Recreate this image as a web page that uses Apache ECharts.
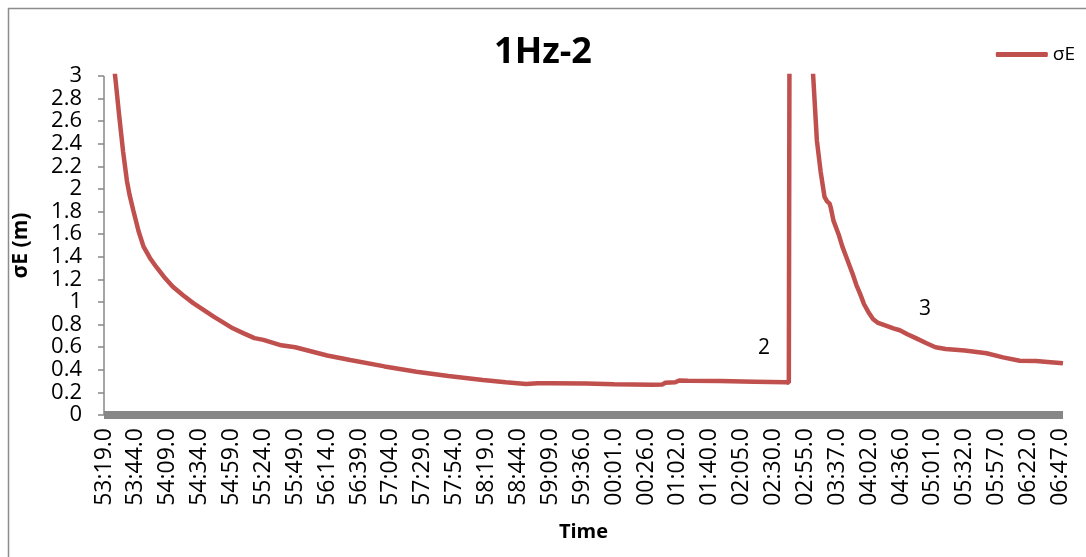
<!DOCTYPE html>
<html>
<head>
<meta charset="utf-8">
<script src="https://cdn.jsdelivr.net/npm/echarts@6/dist/echarts.min.js"></script>
<style>
html,body{margin:0;padding:0;background:#fff;}
#chart{width:1086px;height:557px;}
</style>
</head>
<body>
<div id="chart"></div>
<script>
// Tick labels along the time axis (one every 25 samples)
const tickLabels = ['53:19.0','53:44.0','54:09.0','54:34.0','54:59.0','55:24.0','55:49.0','56:14.0','56:39.0','57:04.0','57:29.0','57:54.0','58:19.0','58:44.0','59:09.0','59:36.0','00:01.0','00:26.0','01:02.0','01:40.0','02:05.0','02:30.0','02:55.0','03:37.0','04:02.0','04:36.0','05:01.0','05:32.0','05:57.0','06:22.0','06:47.0'];
const samplesPerTick = 25;
const lastSample = 752;

// Sample index (1 Hz epochs) and sigma E values
const sampleIdx = [0,5,9,12,15,18,20,23,27,31,36,41,48,54,62,70,78,86,94,101,110,118,125,139,150,175,193,220,245,270,297,315,331,340,350,378,400,430,438,440,448,451,458,483,510,535,537,538,555,556,559,562,565,567,569,570,572,576,579,582,585,587,590,593,596,600,603,607,612,619,624,630,637,645,652,660,675,692,705,718,731,740,752];
const sigmaE = [4.2,3.4,2.97,2.64,2.33,2.07,1.95,1.81,1.63,1.49,1.39,1.31,1.21,1.135,1.06,0.99,0.93,0.87,0.815,0.767,0.72,0.68,0.665,0.617,0.60,0.527,0.487,0.43,0.383,0.345,0.31,0.29,0.275,0.28,0.28,0.278,0.272,0.268,0.27,0.285,0.29,0.305,0.303,0.30,0.295,0.29,0.285,6.0,3.3,3.02,2.43,2.15,1.93,1.89,1.87,1.83,1.72,1.6,1.49,1.40,1.31,1.25,1.15,1.07,0.98,0.90,0.85,0.815,0.795,0.767,0.75,0.715,0.678,0.635,0.60,0.584,0.57,0.546,0.51,0.48,0.478,0.47,0.457];

// Annotation labels
const annotText = ['2','3'];
const annotIdx = [517.5, 643.8];
const annotVal = [0.593, 0.938];

const seriesData = sampleIdx.map((x, i) => [x, sigmaE[i]]);
const markData = annotText.map((t, i) => ({ coord: [annotIdx[i], annotVal[i]], value: t }));

const FONT = 'Open Sans';
const chart = echarts.init(document.getElementById('chart'), null, { renderer: 'canvas' });
chart.setOption({
  animation: false,
  backgroundColor: '#ffffff',
  textStyle: { fontFamily: FONT },
  title: {
    text: '1Hz-2',
    left: 'center',
    top: 30,
    textStyle: { fontFamily: FONT, fontSize: 36, fontWeight: 'bold', color: '#000' }
  },
  legend: {
    data: ['σE'],
    right: 6,
    top: 40,
    icon: 'roundRect',
    itemWidth: 52,
    itemHeight: 5,
    textStyle: { fontFamily: FONT, fontSize: 19, color: '#000' }
  },
  graphic: [{
    type: 'rect',
    left: 6, top: 6,
    shape: { width: 1100, height: 600 },
    style: { fill: 'none', stroke: '#8c8c8c', lineWidth: 1.5 },
    silent: true
  }],
  grid: { left: 104, right: 23, top: 76, bottom: 142 },
  xAxis: {
    type: 'value',
    min: 0,
    max: lastSample,
    interval: samplesPerTick,
    offset: 4,
    name: 'Time',
    nameLocation: 'middle',
    nameGap: 103,
    nameTextStyle: { fontFamily: FONT, fontSize: 20, fontWeight: 'bold', color: '#000' },
    splitLine: { show: false },
    axisTick: { show: false },
    axisLine: { show: true, lineStyle: { color: '#878787', width: 8, cap: 'butt' } },
    axisLabel: {
      rotate: 90,
      margin: 9,
      fontFamily: FONT,
      fontSize: 23,
      color: '#000',
      showMaxLabel: false,
      formatter: function (v) {
        if (v % samplesPerTick !== 0) return '';
        const k = v / samplesPerTick;
        return tickLabels[k] !== undefined ? tickLabels[k] : '';
      }
    }
  },
  yAxis: {
    type: 'value',
    min: 0,
    max: 3,
    interval: 0.2,
    name: 'σE (m)',
    nameLocation: 'middle',
    nameGap: 72,
    nameRotate: 90,
    nameTextStyle: { fontFamily: FONT, fontSize: 21, fontWeight: 'bold', color: '#000' },
    splitLine: { show: false },
    axisLine: { show: true, lineStyle: { color: '#878787', width: 1.5, cap: 'butt' } },
    axisTick: { show: true, inside: false, length: 6, lineStyle: { color: '#878787', width: 1.5 } },
    axisLabel: {
      margin: 22,
      fontFamily: FONT,
      fontSize: 22,
      color: '#000',
      formatter: function (v) { return String(Math.round(v * 10) / 10); }
    }
  },
  series: [{
    name: 'σE',
    type: 'line',
    data: seriesData,
    symbol: 'none',
    clip: true,
    smooth: false,
    lineStyle: { color: '#c0504d', width: 4.5 },
    itemStyle: { color: '#c0504d' },
    markPoint: {
      symbol: 'circle',
      symbolSize: 1,
      itemStyle: { color: 'rgba(0,0,0,0)' },
      label: {
        show: true,
        position: 'inside',
        formatter: '{c}',
        fontFamily: FONT,
        fontSize: 21,
        color: '#000'
      },
      data: markData
    }
  }]
});
</script>
</body>
</html>
